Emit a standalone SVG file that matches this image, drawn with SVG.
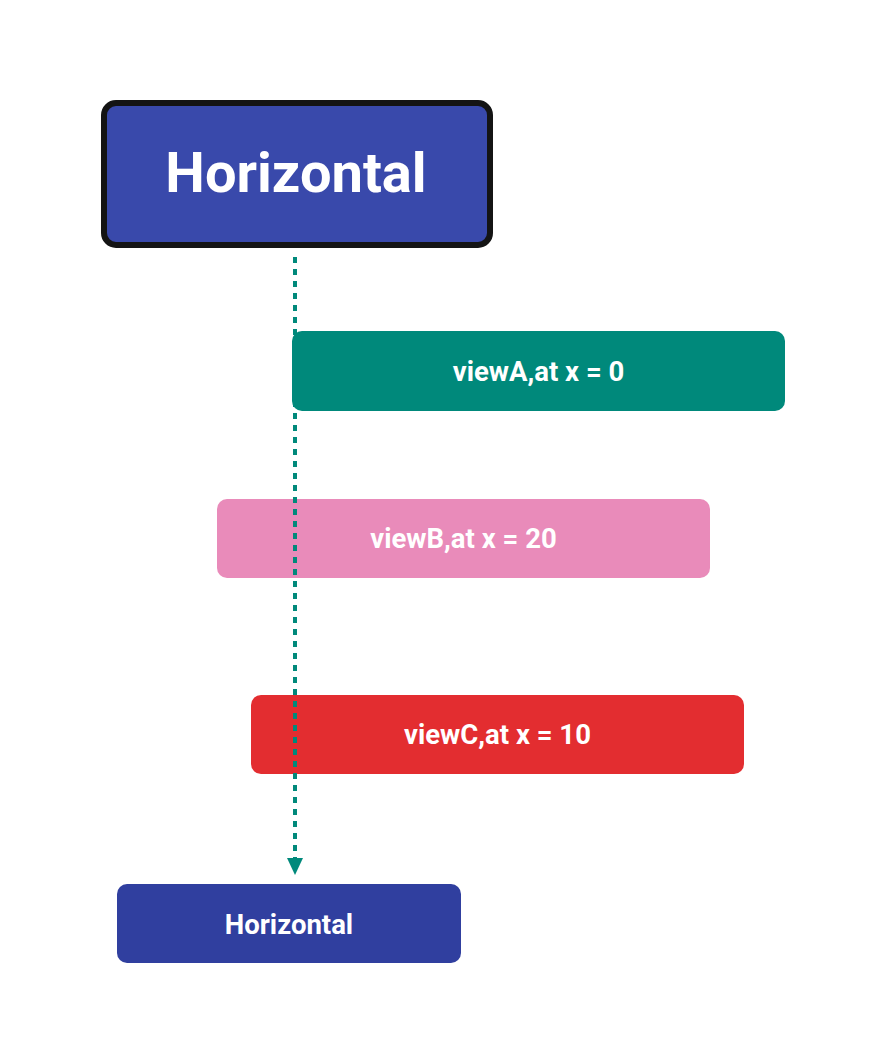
<svg xmlns="http://www.w3.org/2000/svg" width="886" height="1064" viewBox="0 0 886 1064">
<style>
.lbl{font-family:Roboto,"Liberation Sans",sans-serif;font-weight:700;fill:#ffffff;text-anchor:middle}
.sm{font-size:27.5px}
.conn{stroke:#00897B;stroke-width:4;stroke-dasharray:6 6;fill:none}
</style>
<rect width="886" height="1064" fill="#ffffff"/>
<g id="top">
<rect x="104" y="103" width="386" height="142" rx="12" fill="#3949AB" stroke="#141414" stroke-width="6"/>
<text class="lbl" x="296" y="192" font-size="56">Horizontal</text>
</g>
<g id="viewB">
<rect x="217" y="499" width="493" height="79" rx="10" fill="#E98BBA"/>
<text class="lbl sm" x="463.5" y="548">viewB,at x = 20</text>
</g>
<g id="viewC">
<rect x="251" y="695" width="493" height="79" rx="10" fill="#E32D30"/>
<text class="lbl sm" x="497.5" y="744">viewC,at x = 10</text>
</g>
<g id="connectors">
<path class="conn" d="M295,257 L295,858"/>
<path d="M287,858 L303,858 L295,875 Z" fill="#00897B"/>
</g>
<g id="viewA">
<rect x="292" y="331" width="493" height="80" rx="10" fill="#00897B"/>
<text class="lbl sm" x="538.5" y="381">viewA,at x = 0</text>
</g>
<g id="bottom">
<rect x="117" y="884" width="344" height="79" rx="10" fill="#303F9F"/>
<text class="lbl sm" x="289" y="934">Horizontal</text>
</g>
</svg>
